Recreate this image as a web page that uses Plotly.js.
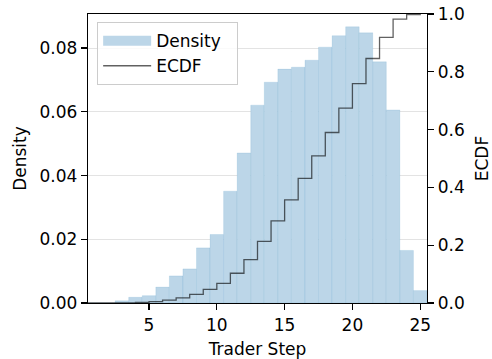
<!DOCTYPE html>
<html>
<head>
<meta charset="utf-8">
<script src="https://cdn.plot.ly/plotly-3.0.1.min.js"></script>
<style>html,body{margin:0;padding:0;background:#fff}#chart{width:492px;height:359px}</style>
</head>
<body>
<div id="chart"></div>
<script>
// Trader step values (integer bins)
var steps = [1, 2, 3, 4, 5, 6, 7, 8, 9, 10, 11, 12, 13, 14, 15, 16, 17, 18, 19, 20, 21, 22, 23, 24, 25];
// Histogram density per step
var density = [0.0, 0.0, 0.0007, 0.0018, 0.0023, 0.0050, 0.0085, 0.0107, 0.0173, 0.0215, 0.0351, 0.0471, 0.0621,
               0.0693, 0.0734, 0.0740, 0.0762, 0.0803, 0.0839, 0.0867, 0.0848, 0.0757, 0.0606, 0.0165, 0.0039];
// ECDF x positions and values (step function)
var ecdfX = [0, 1, 2, 3, 4, 5, 6, 7, 8, 9, 10, 11, 12, 13, 14, 15, 16, 17, 18, 19, 20, 21, 22, 23, 24, 25];
var ecdfY = [0, 0, 0, 0.0007, 0.0025, 0.005, 0.010, 0.018, 0.030, 0.047, 0.068, 0.103, 0.150, 0.213, 0.284,
             0.357, 0.431, 0.509, 0.590, 0.674, 0.759, 0.846, 0.919, 0.982, 0.998, 1.0];
var xTicks = [5, 10, 15, 20, 25];
var yTicks = [0, 0.02, 0.04, 0.06, 0.08];
var y2Ticks = [0, 0.2, 0.4, 0.6, 0.8, 1.0];

var barColor = 'rgb(188,214,232)';
var font = {family: 'DejaVu Sans', size: 17, color: '#000'};

var traces = [
  {
    type: 'bar', x: steps, y: density, width: 1, name: 'Density', showlegend: false,
    marker: {color: barColor, line: {color: 'rgba(31,119,180,0.18)', width: 0.6}},
    yaxis: 'y', xaxis: 'x', hoverinfo: 'x+y'
  },
  {
    type: 'scatter', mode: 'lines', x: [null], y: [null], name: 'Density\u00a0\u00a0',
    line: {color: barColor, width: 13}, yaxis: 'y', hoverinfo: 'skip'
  },
  {
    type: 'scatter', mode: 'lines', x: ecdfX, y: ecdfY, name: 'ECDF',
    line: {color: 'rgba(0,0,0,0.62)', width: 1.3, shape: 'hv'}, yaxis: 'y2'
  }
];

var layout = {
  width: 492, height: 359,
  margin: {l: 88, r: 65, t: 14, b: 56},
  paper_bgcolor: '#fff', plot_bgcolor: '#fff',
  font: font,
  bargap: 0,
  showlegend: true,
  legend: {
    x: 0.027, y: 0.972, xanchor: 'left', yanchor: 'top',
    bgcolor: 'rgba(255,255,255,0.8)', bordercolor: '#cccccc', borderwidth: 1,
    font: font, itemwidth: 48, tracegroupgap: 4
  },
  xaxis: {
    range: [0.5, 25.5], tickvals: xTicks, ticktext: xTicks.map(String),
    ticks: 'outside', ticklen: 6, tickwidth: 1.2, tickcolor: '#000',
    showline: true, linecolor: '#000', linewidth: 1.3, mirror: true,
    showgrid: false, zeroline: false,
    title: {text: 'Trader Step', font: font, standoff: 10}
  },
  yaxis: {
    range: [0, 0.0907], tickvals: yTicks, tickformat: '.2f',
    ticks: 'outside', ticklen: 6, tickwidth: 1.2, tickcolor: '#000',
    showline: true, linecolor: '#000', linewidth: 1.3,
    showgrid: true, gridcolor: '#e3e3e3', gridwidth: 1, zeroline: false,
    title: {text: 'Density', font: font, standoff: 8}
  },
  yaxis2: {
    overlaying: 'y', side: 'right', range: [0, 1.0], tickvals: y2Ticks, tickformat: '.1f',
    ticks: 'outside', ticklen: 6, tickwidth: 1.2, tickcolor: '#000',
    showline: true, linecolor: '#000', linewidth: 1.3,
    showgrid: false, zeroline: false,
    title: {text: 'ECDF', font: font, standoff: 14}
  }
};

Plotly.newPlot('chart', traces, layout, {displayModeBar: false, staticPlot: true});
</script>
</body>
</html>
